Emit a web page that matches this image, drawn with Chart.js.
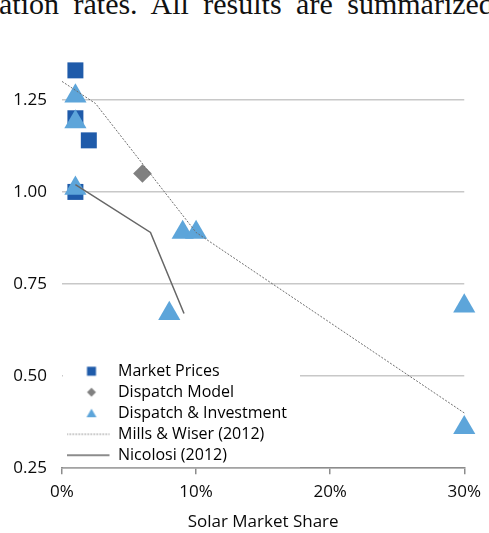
<!DOCTYPE html>
<html>
<head>
<meta charset="utf-8">
<script src="https://cdn.jsdelivr.net/npm/chart.js@4/dist/chart.umd.min.js"></script>
<style>
  html, body { margin: 0; padding: 0; background: #fff; overflow: hidden; }
  #wrap { position: relative; width: 489px; height: 533px; overflow: hidden; }
  #caption { position: absolute; left: -1px; top: -11px; font-family: "Liberation Serif", serif; font-size: 30px; line-height: 30px; word-spacing: 7px; white-space: nowrap; color: #111; }
  #chart { position: absolute; left: 0; top: 0; }
</style>
</head>
<body>
<div id="wrap">
  <div id="caption">ation rates. All results are summarized</div>
  <canvas id="chart" width="489" height="533"></canvas>
</div>
<script>
'use strict'
// x = solar market share (%), y = value factor
const marketX = [1, 1, 2, 1];
const marketY = [1.33, 1.20, 1.14, 1.00];
const dispatchX = [6];
const dispatchY = [1.05];
const investX = [1, 1, 1, 9, 10, 8, 30, 30];
const investY = [1.26, 1.19, 1.01, 0.89, 0.89, 0.67, 0.69, 0.36];
const millsX = [0, 2.5, 10, 30];
const millsY = [1.30, 1.24, 0.89, 0.40];
const nicolosiX = [1, 6.6, 9.1];
const nicolosiY = [1.02, 0.89, 0.67];
const seriesNames = ['Market Prices', 'Dispatch Model', 'Dispatch & Investment', 'Mills & Wiser (2012)', 'Nicolosi (2012)'];

const darkBlue = '#1F5BAA';
const lightBlue = '#5DA5DA';
const diamondGray = '#808080';
const textColor = '#0a0a0a';
const font = 'Open Sans';

function pts(xs, ys) {
  return xs.map((x, i) => ({ x: x, y: ys[i] }));
}

// small pictures for the legend keys
function legendIcon(kind) {
  const c = document.createElement('canvas');
  c.width = 44; c.height = 12;
  const g = c.getContext('2d');
  const cx = 25, cy = 6;
  if (kind === 'square') {
    g.fillStyle = darkBlue;
    g.fillRect(cx - 4.5, cy - 4.5, 9, 9);
  } else if (kind === 'diamond') {
    g.fillStyle = diamondGray;
    g.beginPath();
    g.moveTo(cx, cy - 4.5); g.lineTo(cx + 4.5, cy); g.lineTo(cx, cy + 4.5); g.lineTo(cx - 4.5, cy);
    g.closePath(); g.fill();
  } else if (kind === 'triangle') {
    g.fillStyle = lightBlue;
    g.beginPath();
    g.moveTo(cx, cy - 4.5); g.lineTo(cx + 5, cy + 4); g.lineTo(cx - 5, cy + 4);
    g.closePath(); g.fill();
  } else {
    g.strokeStyle = kind === 'dotted' ? '#7a7a7a' : '#666';
    g.lineWidth = kind === 'dotted' ? 1 : 1.5;
    g.setLineDash(kind === 'dotted' ? [1.5, 1.5] : []);
    g.beginPath();
    g.moveTo(0, cy); g.lineTo(43, cy);
    g.stroke();
  }
  return c;
}
const icons = ['square', 'diamond', 'triangle', 'dotted', 'solid'].map(legendIcon);

// place the legend in the lower left of the plot and give it a white backing
const legendBox = {
  id: 'legendBox',
  afterLayout(chart) {
    const lg = chart.legend;
    const ca = chart.chartArea;
    lg.left = ca.left; lg.top = ca.top; lg.right = ca.right; lg.bottom = ca.bottom;
  },
  beforeDatasetsDraw(chart) {
    const lg = chart.legend;
    const h = lg.columnSizes ? lg.columnSizes[0].height : 105;
    const ctx = chart.ctx;
    ctx.save();
    ctx.fillStyle = '#fff';
    ctx.fillRect(lg.left + 1, lg.bottom - h - 2, lg.width + 2, h + 1);
    ctx.restore();
    lg.draw();
  }
};

const ctx = document.getElementById('chart').getContext('2d');

const data = {
  datasets: [
    {
      label: seriesNames[0],
      data: pts(marketX, marketY),
      pointStyle: 'rect',
      pointRadius: 11.3,
      backgroundColor: darkBlue,
      borderWidth: 0,
      order: 3,
    },
    {
      label: seriesNames[1],
      data: pts(dispatchX, dispatchY),
      pointStyle: 'rectRot',
      pointRadius: 9.3,
      backgroundColor: diamondGray,
      borderWidth: 0,
      order: 2,
    },
    {
      label: seriesNames[2],
      data: pts(investX, investY),
      pointStyle: 'triangle',
      pointRadius: 12.8,
      backgroundColor: lightBlue,
      borderWidth: 0,
      order: 1,
    },
    {
      label: seriesNames[3],
      data: pts(millsX, millsY),
      showLine: true,
      pointRadius: 0,
      borderColor: '#6e6e6e',
      borderWidth: 1,
      borderDash: [2, 1.5],
      order: 0,
    },
    {
      label: seriesNames[4],
      data: pts(nicolosiX, nicolosiY),
      showLine: true,
      pointRadius: 0,
      borderColor: '#666',
      borderWidth: 1.5,
      order: 0,
    },
  ],
};

const options = {
  responsive: false,
  animation: false,
  clip: false,
  layout: { padding: { left: 12, right: 0, top: 63, bottom: 1 } },
  scales: {
    x: {
      type: 'linear',
      min: 0,
      max: 30,
      ticks: {
        stepSize: 10,
        callback: function (value) { return value + '%'; },
        font: { family: font, size: 17 },
        color: textColor,
        padding: 8,
      },
      grid: { drawOnChartArea: false, drawTicks: true, tickLength: 6, color: '#8c8c8c', lineWidth: 1.5 },
      border: { color: '#8c8c8c', width: 1.5 },
      title: {
        display: true,
        text: 'Solar Market Share',
        font: { family: font, size: 17 },
        color: textColor,
        padding: { top: 1, bottom: 0 },
      },
    },
    y: {
      min: 0.25,
      max: 1.35,
      afterFit: function (scale) { scale.width = 50; },
      ticks: {
        stepSize: 0.25,
        includeBounds: false,
        callback: function (value) { return value.toFixed(2); },
        font: { family: font, size: 17 },
        color: textColor,
        padding: 15,
      },
      grid: { color: '#c8c8c8', lineWidth: 1.5, drawTicks: false },
      border: { display: false },
    },
  },
  plugins: {
    legend: {
      position: 'chartArea',
      align: 'end',
      labels: {
        usePointStyle: true,
        pointStyleWidth: 43,
        boxHeight: 16,
        padding: 5,
        color: '#111',
        font: { family: font, size: 16 },
        generateLabels: function () {
          return seriesNames.map((name, i) => ({
            text: name,
            pointStyle: icons[i],
            fillStyle: 'transparent',
            strokeStyle: 'transparent',
            lineWidth: 0,
            hidden: false,
            datasetIndex: i,
          }));
        },
      },
    },
    tooltip: { enabled: false },
  },
};

const myChart = new Chart(ctx, {
  type: 'scatter',
  data: data,
  options: options,
  plugins: [legendBox],
});
myChart;
</script>
</body>
</html>
